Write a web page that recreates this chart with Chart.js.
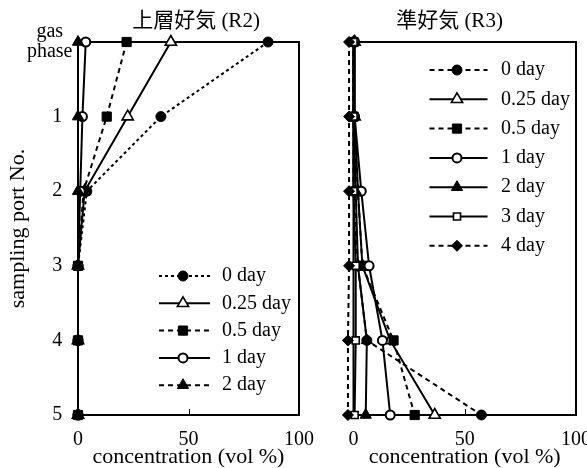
<!DOCTYPE html>
<html>
<head>
<meta charset="utf-8">
<script src="https://cdn.jsdelivr.net/npm/chart.js@4/dist/chart.umd.min.js"></script>
<style>
  html, body { margin: 0; padding: 0; background: #fff; overflow: hidden; }
  #wrap { position: relative; width: 587px; height: 468px; overflow: hidden; }
  .panel { position: absolute; top: 0; height: 468px; }
  #p1 { left: 0; width: 329px; }
  #p2 { left: 310px; width: 300px; }
</style>
</head>
<body>
<div id="wrap">
  <div class="panel" id="p1"><canvas id="c1"></canvas></div>
  <div class="panel" id="p2"><canvas id="c2"></canvas></div>
</div>
<script>
// Sampling ports, top (gas phase) to bottom (port 5)
const portLabels = [['gas', 'phase'], '1', '2', '3', '4', '5'];
const portIndex = [0, 1, 2, 3, 4, 5];
const xTickValues = [0, 50, 100];

// 上層好気 (R2): concentration (vol %) at each port
const r2Names = ['0 day', '0.25 day', '0.5 day', '1 day', '2 day'];
const r2Day0   = [86, 37.5, 4, 0, 0, 0];
const r2Day025 = [42, 22.5, 3, 0, 0, 0];
const r2Day05  = [22, 13, 2.5, 0, 0, 0];
const r2Day1   = [3.5, 2, 1, 0, 0, 0];
const r2Day2   = [0, 0, 0, 0, 0, 0];

// 準好気 (R3): concentration (vol %) at each port
const r3Names = ['0 day', '0.25 day', '0.5 day', '1 day', '2 day', '3 day', '4 day'];
const r3Day0   = [0, 0, 0, 2, 6, 57.5];
const r3Day025 = [0.5, 0.5, 2, 4, 16.5, 36.5];
const r3Day05  = [0, 0, 2, 4, 18, 27.5];
const r3Day1   = [0.5, 0.5, 3.5, 7, 13, 16.5];
const r3Day2   = [0, 0, 1, 2, 6, 5.5];
const r3Day3   = [0, 0, 0, 1, 1, 0.5];
const r3Day4   = [-2, -2, -2, -2, -2.5, -2.5];

const SERIF = '"Liberation Serif", "Noto Sans CJK JP", serif';

// marker / line look per series
const DOTTED = [3, 3];
const DASHED = [5, 4];
const SOLID = [];
const mk = {
  filledCircle:   { pointStyle: 'circle',   radius: 5,   fill: '#000', bw: 1 },
  openTriangle:   { pointStyle: 'triangle', radius: 6.5, fill: '#fff', bw: 1.6 },
  filledSquare:   { pointStyle: 'rect',     radius: 6.5, fill: '#000', bw: 1 },
  openCircle:     { pointStyle: 'circle',   radius: 4.5, fill: '#fff', bw: 2 },
  filledTriangle: { pointStyle: 'triangle', radius: 6.5, fill: '#000', bw: 1 },
  openSquare:     { pointStyle: 'rect',     radius: 5,   fill: '#fff', bw: 1.6 },
  filledDiamond:  { pointStyle: 'rectRot',  radius: 5.5, fill: '#000', bw: 1 }
};

function makeDataset(label, values, marker, dash, order) {
  return {
    label,
    data: values.map((v, i) => ({ x: v, y: portIndex[i] })),
    showLine: true,
    order,
    borderColor: '#000',
    borderWidth: 2,
    borderDash: dash,
    pointStyle: marker.pointStyle,
    pointRadius: marker.radius,
    pointBackgroundColor: marker.fill,
    pointBorderColor: '#000',
    pointBorderWidth: marker.bw,
    pointHoverRadius: marker.radius,
    clip: false,
    tension: 0,
    _marker: marker,
    _dash: dash
  };
}

// frame, inward tick marks, panel title and in-plot legend
const panelDecor = {
  id: 'panelDecor',
  beforeDatasetsDraw(chart) {
    const { ctx, chartArea: a, scales } = chart;
    ctx.save();
    ctx.strokeStyle = '#000';
    ctx.lineWidth = 2;
    ctx.setLineDash([]);
    ctx.strokeRect(a.left, a.top, a.right - a.left, a.bottom - a.top);
    ctx.lineWidth = 1;
    scales.x.ticks.forEach(t => {
      const px = Math.round(scales.x.getPixelForValue(t.value)) + 0.5;
      ctx.beginPath();
      ctx.moveTo(px, a.bottom);
      ctx.lineTo(px, a.bottom - 6);
      ctx.stroke();
    });
    ctx.restore();
  },
  afterDraw(chart, args, opts) {
    const { ctx, chartArea: a } = chart;
    ctx.save();
    ctx.fillStyle = '#000';
    ctx.font = '21px ' + SERIF;
    ctx.textAlign = 'center';
    ctx.textBaseline = 'middle';
    ctx.fillText(opts.title, a.left + opts.titleDx, opts.titleY);

    const L = opts.legend;
    chart.data.datasets.forEach((ds, i) => {
      const y = a.top + L.top + i * L.step;
      ctx.strokeStyle = '#000';
      ctx.lineWidth = 2;
      ctx.setLineDash(ds._dash);
      ctx.beginPath();
      ctx.moveTo(a.left + L.x1, y);
      ctx.lineTo(a.left + L.x2, y);
      ctx.stroke();
      ctx.setLineDash([]);
      const m = ds._marker;
      ctx.fillStyle = m.fill;
      ctx.lineWidth = m.bw;
      Chart.helpers.drawPoint(ctx, { pointStyle: m.pointStyle, radius: m.radius, rotation: 0, borderWidth: m.bw }, a.left + L.mx, y);
      ctx.fillStyle = '#000';
      ctx.textAlign = 'left';
      ctx.font = '20px ' + SERIF;
      ctx.fillText(ds.label, a.left + L.tx, y);
    });
    ctx.restore();
  }
};

function makePanel(canvasId, datasets, opt) {
  return new Chart(document.getElementById(canvasId), {
    type: 'scatter',
    data: { datasets },
    plugins: [panelDecor],
    options: {
      responsive: true,
      maintainAspectRatio: false,
      animation: false,
      events: [],
      layout: { padding: { top: 42, right: opt.padRight, bottom: 0, left: 0 } },
      plugins: {
        legend: { display: false },
        tooltip: { enabled: false },
        panelDecor: opt.decor
      },
      scales: {
        x: {
          type: 'linear',
          min: 0,
          max: 100,
          afterBuildTicks: s => { s.ticks = xTickValues.map(v => ({ value: v })); },
          afterFit: s => { s.height = 53; },
          grid: { display: false, drawTicks: false },
          border: { display: false },
          ticks: { color: '#000', padding: 15, maxRotation: 0, font: { family: SERIF, size: 20, lineHeight: 1 } },
          title: { display: true, text: 'concentration (vol %)', color: '#000', padding: { top: 0, bottom: 0 }, font: { family: SERIF, size: 22, lineHeight: 1 } }
        },
        y: {
          type: 'linear',
          reverse: true,
          min: 0,
          max: 5,
          afterFit: s => { s.width = opt.yWidth; },
          grid: { display: false, drawTicks: false },
          border: { display: false },
          ticks: {
            display: opt.showYLabels,
            stepSize: 1,
            autoSkip: false,
            color: '#000',
            crossAlign: 'center',
            padding: 5.5,
            font: { family: SERIF, size: 20, lineHeight: 1 },
            callback: v => (v === 0 ? portLabels[0] : '   ' + portLabels[v])
          },
          title: { display: opt.showYLabels, text: 'sampling port No.', color: '#000', padding: { top: 7, bottom: 0 }, font: { family: SERIF, size: 22, lineHeight: 1 } }
        }
      }
    }
  });
}

makePanel('c1', [
  makeDataset(r2Names[0], r2Day0, mk.filledCircle, DOTTED, 5),
  makeDataset(r2Names[1], r2Day025, mk.openTriangle, SOLID, 4),
  makeDataset(r2Names[2], r2Day05, mk.filledSquare, DASHED, 3),
  makeDataset(r2Names[3], r2Day1, mk.openCircle, SOLID, 2),
  makeDataset(r2Names[4], r2Day2, mk.filledTriangle, DASHED, 1)
], {
  padRight: 30, yWidth: 78, showYLabels: true,
  decor: { title: '上層好気 (R2)', titleDx: 118, titleY: 21,
           legend: { top: 234, step: 27.3, x1: 81, x2: 132, mx: 105, tx: 144 } }
});

makePanel('c2', [
  makeDataset(r3Names[0], r3Day0, mk.filledCircle, DASHED, 7),
  makeDataset(r3Names[1], r3Day025, mk.openTriangle, SOLID, 6),
  makeDataset(r3Names[2], r3Day05, mk.filledSquare, DASHED, 5),
  makeDataset(r3Names[3], r3Day1, mk.openCircle, SOLID, 4),
  makeDataset(r3Names[4], r3Day2, mk.filledTriangle, SOLID, 3),
  makeDataset(r3Names[5], r3Day3, mk.openSquare, SOLID, 2),
  makeDataset(r3Names[6], r3Day4, mk.filledDiamond, DASHED, 1)
], {
  padRight: 34, yWidth: 43.5, showYLabels: false,
  decor: { title: '準好気 (R3)', titleDx: 96, titleY: 21,
           legend: { top: 28, step: 29.3, x1: 76, x2: 134, mx: 103.5, tx: 147.5 } }
});
</script>
</body>
</html>
